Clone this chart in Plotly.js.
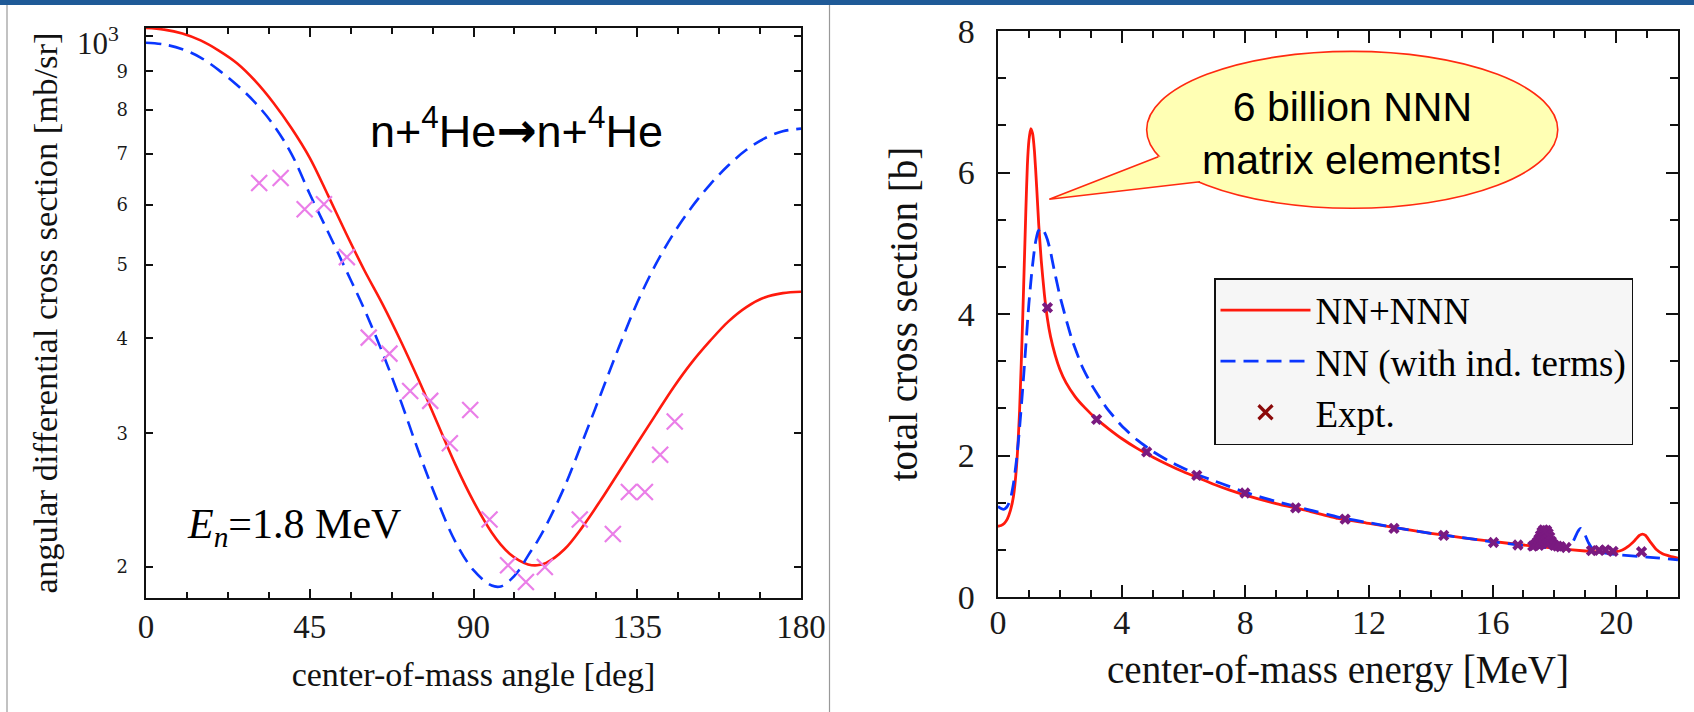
<!DOCTYPE html>
<html>
<head>
<meta charset="utf-8">
<script src="https://cdn.plot.ly/plotly-3.0.1.min.js"></script>
<style>html,body{margin:0;padding:0;background:#fff;}#chart{width:1694px;height:712px;}</style>
</head>
<body>
<div id="chart"></div>
<script>
// ---------- Left panel: n + 4He angular differential cross section (En = 1.8 MeV) ----------
const angleDeg = [0,5,10,15,20,25,30,35,40,45,50,55,60,65,70,75,80,85,90,95,97.5,100,102.5,105,107.5,110,115,120,125,130,135,140,145,150,155,160,165,170,175,180];
const dsigmaNNNNN = [1026,1021,1009,988,958,922,874,818,757,692,618,550,492,444,397,352,310,273,244,222,214,208,204,201.5,201,202.5,211,226,245,267,291,317,345,372,397,421,440,453,459,461];
const dsigmaNN = [981,976,962,938,903,863,818,765,700,620,553,492,437,383,331,283,245,216,198,189,188.5,192,198,207,216,227,255,293,338,390,446,500,550,596,638,676,709,734,750,756];
const exptAngle = [31.1,37.0,43.6,48.9,55.2,61.2,66.9,72.6,78.1,83.5,89.1,94.4,99.5,104.4,109.6,119.2,123.7,128.3,132.7,137.1,141.3,145.3];
const exptDsigma = [641,651,592,601,512,401,382,341,331,291,322,231,201,191,200,231,181,221,251,251,281,311];
const leftYTickVals = [200,300,400,500,600,700,800,900,1000];
const leftYTickText = ['2','3','4','5','6','7','8','9',''];
const leftYTopLabel = '10<sup>3</sup>';
const leftXTickVals = [0,45,90,135,180];

// ---------- Right panel: n + 4He total cross section ----------
const energyNNNNN = [0,0.1,0.2,0.3,0.4,0.5,0.6,0.7,0.8,0.9,0.95,1.0,1.06,1.12,1.18,1.25,1.32,1.4,1.5,1.6,1.7,1.85,2.0,2.2,2.5,2.8,3.2,3.6,4.0,4.5,5.0,5.5,6.0,6.5,7.0,7.5,8.0,9.0,10.0,11.0,12.0,13.0,14.0,15.0,16.0,17.0,18.0,19.0,19.6,20.0,20.2,20.4,20.6,20.75,20.85,20.95,21.1,21.3,21.5,21.75,22.0];
const sigmaNNNNN = [1.00,1.01,1.04,1.10,1.22,1.42,1.85,2.65,3.95,5.45,6.10,6.45,6.62,6.55,6.30,5.80,5.25,4.75,4.28,3.93,3.68,3.42,3.22,3.03,2.83,2.68,2.51,2.37,2.24,2.10,1.98,1.87,1.77,1.68,1.59,1.51,1.44,1.32,1.22,1.11,1.04,0.97,0.90,0.84,0.785,0.735,0.69,0.65,0.63,0.64,0.665,0.72,0.80,0.87,0.89,0.87,0.78,0.67,0.61,0.575,0.55];
const energyNN = [0,0.1,0.2,0.3,0.4,0.5,0.6,0.7,0.8,0.9,1.0,1.1,1.2,1.3,1.4,1.5,1.6,1.7,1.8,2.0,2.2,2.4,2.7,3.0,3.5,4.0,4.5,5.0,5.5,6.0,6.5,7.0,7.5,8.0,9.0,10.0,11.0,12.0,13.0,14.0,15.0,16.0,17.0,18.0,18.4,18.6,18.75,18.85,18.95,19.1,19.25,19.5,20.0,21.0,22.0];
const sigmaNN = [1.28,1.25,1.24,1.28,1.38,1.60,1.94,2.40,2.95,3.55,4.15,4.62,4.98,5.17,5.22,5.16,5.05,4.88,4.66,4.26,3.93,3.63,3.28,3.02,2.68,2.42,2.22,2.06,1.93,1.82,1.72,1.64,1.56,1.48,1.35,1.24,1.13,1.05,0.97,0.90,0.84,0.78,0.73,0.69,0.70,0.78,0.92,0.97,0.92,0.77,0.67,0.63,0.60,0.565,0.525];
const exptEnergy = [1.6,3.19,4.81,6.43,7.99,9.63,11.23,12.81,14.42,16.03,16.82,17.3,17.35,17.4,17.45,17.5,17.5,17.55,17.55,17.6,17.6,17.65,17.65,17.7,17.7,17.75,17.75,17.8,17.8,17.85,17.9,17.95,18.0,18.1,18.2,18.38,19.2,19.45,19.65,19.9,20.82];
const exptSigma = [4.09,2.51,2.05,1.72,1.47,1.26,1.10,0.97,0.87,0.77,0.735,0.72,0.73,0.75,0.78,0.82,0.73,0.87,0.76,0.92,0.80,0.95,0.84,0.93,0.79,0.94,0.82,0.90,0.76,0.85,0.79,0.75,0.73,0.72,0.71,0.70,0.655,0.66,0.665,0.645,0.64];
const seriesNames = ['NN+NNN','NN (with ind. terms)','Expt.'];

const RED = '#ff1a0d', BLUE = '#0a36ff', VIOLET = '#ea7ee8', PURPLE = '#7a1a80', DARKRED = '#8b0a0a';
const SERIF = 'Liberation Serif, Times New Roman, serif';
const SANS = 'Liberation Sans, Arial, sans-serif';
const W = 1694, H = 712;
const px = v => v / W, py = v => 1 - v / H;

const traces = [
  {x: angleDeg, y: dsigmaNNNNN, xaxis: 'x', yaxis: 'y', mode: 'lines', line: {color: RED, width: 2.6, shape: 'spline', smoothing: 1}, showlegend: false, hoverinfo: 'skip'},
  {x: angleDeg, y: dsigmaNN, xaxis: 'x', yaxis: 'y', mode: 'lines', line: {color: BLUE, width: 2.6, dash: '15px,8px', shape: 'spline', smoothing: 1}, showlegend: false, hoverinfo: 'skip'},
  {x: exptAngle, y: exptDsigma, xaxis: 'x', yaxis: 'y', mode: 'markers', cliponaxis: false,
   marker: {symbol: 'x-thin', size: 16, line: {color: VIOLET, width: 2.2}}, showlegend: false, hoverinfo: 'skip'},
  {x: energyNNNNN, y: sigmaNNNNN, xaxis: 'x2', yaxis: 'y2', mode: 'lines', name: seriesNames[0], line: {color: RED, width: 2.8, shape: 'spline', smoothing: 0.5}},
  {x: energyNN, y: sigmaNN, xaxis: 'x2', yaxis: 'y2', mode: 'lines', name: seriesNames[1], line: {color: BLUE, width: 2.8, dash: '15px,8px', shape: 'spline', smoothing: 0.5}},
  {x: exptEnergy, y: exptSigma, xaxis: 'x2', yaxis: 'y2', mode: 'markers', showlegend: false,
   marker: {symbol: 'x', size: 10, color: PURPLE, line: {width: 0}}, hoverinfo: 'skip'},
  {x: [null], y: [null], xaxis: 'x2', yaxis: 'y2', mode: 'markers', name: seriesNames[2],
   marker: {symbol: 'x-thin', size: 14, line: {color: DARKRED, width: 3.2}}}
];

const axisCommon = {showgrid: false, zeroline: false, showline: true, linecolor: '#111', linewidth: 2.4,
  mirror: 'ticks', ticks: 'inside', tickcolor: '#111', tickwidth: 2, fixedrange: true};

const layout = {
  width: W, height: H,
  margin: {l: 0, r: 0, t: 0, b: 0},
  paper_bgcolor: '#fff', plot_bgcolor: '#fff',
  font: {family: SERIF, color: '#1a1a1a'},
  showlegend: true,
  legend: {x: px(1214), y: py(278), xanchor: 'left', yanchor: 'top',
    bgcolor: '#f6f6f6', bordercolor: '#111', borderwidth: 1.5,
    font: {family: SERIF, size: 37, color: '#000'}, itemwidth: 90, tracegroupgap: 0},
  xaxis: Object.assign({}, axisCommon, {
    domain: [px(146), px(801)], range: [0, 180], anchor: 'y',
    tickmode: 'array', tickvals: leftXTickVals, ticklen: 9,
    minor: {dtick: 11.25, ticklen: 6, ticks: 'inside', tickcolor: '#111', tickwidth: 2},
    tickfont: {family: SERIF, size: 33, color: '#1a1a1a'}, ticklabelstandoff: -2,
    title: {text: 'center-of-mass angle [deg]', font: {family: SERIF, size: 34, color: '#111'}, standoff: 18}
  }),
  yaxis: Object.assign({}, axisCommon, {
    domain: [1 - 598 / H, 1 - 28 / H], type: 'log', range: [Math.log10(182), Math.log10(1026)], anchor: 'x',
    tickmode: 'array', tickvals: leftYTickVals, ticktext: leftYTickText, ticklen: 7,
    tickfont: {family: 'DejaVu Serif, serif', size: 18, color: '#1a1a1a'}, ticklabelstandoff: 12,
    title: {text: 'angular differential cross section [mb/sr]', font: {family: SERIF, size: 34.5, color: '#111'}, standoff: 49}
  }),
  xaxis2: Object.assign({}, axisCommon, {
    domain: [px(998), px(1678)], range: [0, 22], anchor: 'y2',
    dtick: 4, tick0: 0, ticklen: 12,
    minor: {dtick: 1, ticklen: 7, ticks: 'inside', tickcolor: '#111', tickwidth: 2},
    tickfont: {family: SERIF, size: 34, color: '#1a1a1a'}, ticklabelstandoff: -6,
    title: {text: 'center-of-mass energy [MeV]', font: {family: SERIF, size: 39, color: '#111'}, standoff: 16}
  }),
  yaxis2: Object.assign({}, axisCommon, {
    domain: [1 - 597 / H, 1 - 31 / H], range: [0, 8], anchor: 'x2',
    dtick: 2, tick0: 0, ticklen: 12,
    minor: {dtick: 2 / 3, ticklen: 8, ticks: 'inside', tickcolor: '#111', tickwidth: 2},
    tickfont: {family: SERIF, size: 34, color: '#1a1a1a'}, ticklabelstandoff: 14,
    title: {text: 'total cross section [b]', font: {family: SERIF, size: 39, color: '#111'}, standoff: 28}
  }),
  shapes: [
    {type: 'rect', xref: 'paper', yref: 'paper', x0: 0, x1: 1, y0: py(5), y1: 1, fillcolor: '#1f5a97', line: {width: 0}},
    {type: 'line', xref: 'paper', yref: 'paper', x0: px(7), x1: px(7), y0: 0, y1: py(5), line: {color: '#999', width: 1.2}},
    {type: 'line', xref: 'paper', yref: 'paper', x0: px(829.5), x1: px(829.5), y0: 0, y1: py(5), line: {color: '#999', width: 1.2}},
    // speech bubble
    {type: 'circle', xref: 'x2', yref: 'y2', x0: 4.81, x1: 18.11, y0: 5.495, y1: 7.712, layer: 'above',
     fillcolor: '#ffffb4', line: {color: '#ff2a10', width: 1.6}},
    {type: 'path', xref: 'x2', yref: 'y2', layer: 'above', path: 'M 1.66,5.621 L 5.186,6.223 L 7.2,6.35 L 6.535,5.870 Z',
     fillcolor: '#ffffb4', line: {width: 0}},
    {type: 'path', xref: 'x2', yref: 'y2', layer: 'above', path: 'M 5.186,6.223 L 1.66,5.621 L 6.535,5.870',
     line: {color: '#ff2a10', width: 1.6}}
  ],
  annotations: [
    {xref: 'paper', yref: 'paper', x: px(121), y: py(42), xanchor: 'right', yanchor: 'middle', showarrow: false,
     text: leftYTopLabel, font: {family: SERIF, size: 31, color: '#1a1a1a'}},
    {xref: 'paper', yref: 'paper', x: px(516), y: py(128), xanchor: 'center', yanchor: 'middle', showarrow: false,
     text: 'n+<sup>4</sup>He<span style="font-family:DejaVu Sans;font-weight:bold;font-size:48px">\u2192</span>n+<sup>4</sup>He',
     font: {family: SANS, size: 45, color: '#000'}},
    {xref: 'paper', yref: 'paper', x: px(185), y: py(527), xanchor: 'left', yanchor: 'middle', showarrow: false,
     text: '<i>E</i><sub><i>n</i></sub>=1.8 MeV', font: {family: SERIF, size: 42, color: '#000'}},
    {xref: 'paper', yref: 'paper', x: px(1352), y: py(134), xanchor: 'center', yanchor: 'middle', showarrow: false,
     text: '6 billion NNN<br>matrix elements!', font: {family: SANS, size: 41, color: '#000'}}
  ]
};

Plotly.newPlot('chart', traces, layout, {displayModeBar: false, staticPlot: true});
</script>
</body>
</html>
